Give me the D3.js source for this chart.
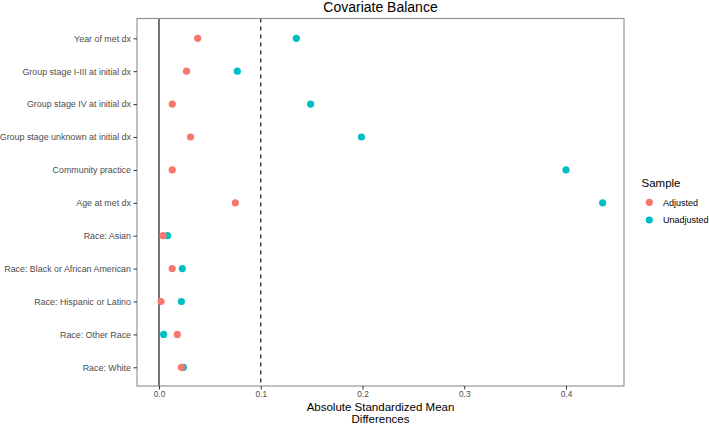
<!DOCTYPE html>
<html>
<head>
<meta charset="utf-8">
<script src="https://cdn.jsdelivr.net/npm/d3@7"></script>
<style>
  html, body { margin: 0; padding: 0; background: #fff; }
  svg { display: block; font-family: "Liberation Sans", Arial, sans-serif; }
</style>
</head>
<body>
<svg id="chart" width="709" height="424"></svg>
<script>
const categories = [
  "Year of met dx",
  "Group stage I-III at initial dx",
  "Group stage IV at initial dx",
  "Group stage unknown at initial dx",
  "Community practice",
  "Age at met dx",
  "Race: Asian",
  "Race: Black or African American",
  "Race: Hispanic or Latino",
  "Race: Other Race",
  "Race: White"
];
const adjusted   = [0.038, 0.027, 0.013, 0.031, 0.013, 0.075, 0.004, 0.013, 0.002, 0.018, 0.022];
const unadjusted = [0.135, 0.077, 0.149, 0.199, 0.400, 0.436, 0.0085, 0.023, 0.022, 0.0046, 0.024];
const seriesNames = ["Adjusted", "Unadjusted"];
const seriesColors = ["#F8766D", "#00BFC4"];
const xTicks = [0.0, 0.1, 0.2, 0.3, 0.4];
const xDomain = [-0.0216, 0.457];
const threshold = 0.1;

const svg = d3.select("#chart");
const panel = { left: 137, top: 18.5, right: 624, bottom: 386 };

const x = d3.scaleLinear().domain(xDomain).range([panel.left, panel.right]);
const y = d3.scalePoint().domain(categories).range([38.3, 367.3]);

// Title
svg.append("text")
  .attr("x", (panel.left + panel.right) / 2).attr("y", 12)
  .attr("text-anchor", "middle")
  .attr("font-size", 14).attr("fill", "#000")
  .text("Covariate Balance");

// Reference lines
svg.append("line")
  .attr("x1", x(0)).attr("x2", x(0))
  .attr("y1", panel.top).attr("y2", panel.bottom)
  .attr("stroke", "#000").attr("stroke-width", 1.1);
svg.append("line")
  .attr("x1", x(threshold)).attr("x2", x(threshold))
  .attr("y1", panel.top).attr("y2", panel.bottom)
  .attr("stroke", "#000").attr("stroke-width", 1.1)
  .attr("stroke-dasharray", "4,4");

// Points: unadjusted first, adjusted on top
const seriesData = [adjusted, unadjusted];
[1, 0].forEach(si => {
  svg.append("g").selectAll("circle")
    .data(categories.map((c, i) => ({ c, v: seriesData[si][i] })))
    .join("circle")
    .attr("cx", d => x(d.v))
    .attr("cy", d => y(d.c))
    .attr("r", 3.6)
    .attr("fill", seriesColors[si]);
});

// Panel border
svg.append("rect")
  .attr("x", panel.left).attr("y", panel.top)
  .attr("width", panel.right - panel.left).attr("height", panel.bottom - panel.top)
  .attr("fill", "none").attr("stroke", "#8c8c8c").attr("stroke-width", 1.1);

// Axes
const xAxis = svg.append("g")
  .attr("transform", `translate(0,${panel.bottom})`)
  .call(d3.axisBottom(x).tickValues(xTicks).tickFormat(d3.format(".1f")).tickSize(3.5).tickPadding(2));
const yAxis = svg.append("g")
  .attr("transform", `translate(${panel.left},0)`)
  .call(d3.axisLeft(y).tickSize(3.5).tickPadding(2.5));
[xAxis, yAxis].forEach(a => {
  a.select(".domain").remove();
  a.selectAll(".tick line").attr("stroke", "#333");
  a.selectAll(".tick text").attr("fill", "#4d4d4d")
    .attr("font-family", "Liberation Sans, Arial, sans-serif");
});
xAxis.selectAll(".tick text").attr("font-size", 8.3);
yAxis.selectAll(".tick text").attr("font-size", 8.9);

// X axis title
const xt = svg.append("text")
  .attr("text-anchor", "middle").attr("font-size", 11.5).attr("fill", "#000");
xt.append("tspan").attr("x", (panel.left + panel.right) / 2).attr("y", 411).text("Absolute Standardized Mean");
xt.append("tspan").attr("x", (panel.left + panel.right) / 2).attr("y", 422.5).text("Differences");

// Legend
const lg = svg.append("g");
lg.append("text").attr("x", 641.5).attr("y", 187).attr("font-size", 11.5).attr("fill", "#000").text("Sample");
seriesNames.forEach((n, i) => {
  const cy = 202.3 + i * 17.7;
  lg.append("circle").attr("cx", 649.3).attr("cy", cy).attr("r", 3.6).attr("fill", seriesColors[i]);
  lg.append("text").attr("x", 663).attr("y", cy + 3.2).attr("font-size", 9).attr("fill", "#000").text(n);
});
</script>
</body>
</html>
